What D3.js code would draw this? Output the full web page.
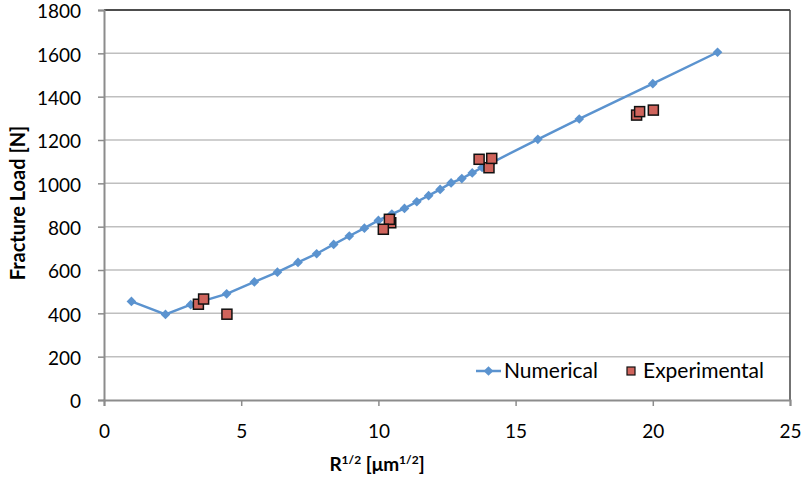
<!DOCTYPE html>
<html><head><meta charset="utf-8">
<script src="https://cdn.jsdelivr.net/npm/d3@7/dist/d3.min.js"></script>
<style>body{margin:0;background:#fff}svg{display:block;font-family:Lato,"Open Sans",sans-serif}</style>
</head><body><svg id="c" width="804" height="479"></svg>
<script>
const numX = [1.0, 2.24, 3.16, 4.47, 5.48, 6.32, 7.07, 7.75, 8.37, 8.94, 9.49, 10.0, 10.49, 10.95, 11.40, 11.83, 12.25, 12.65, 13.04, 13.42, 13.78, 14.14, 15.81, 17.32, 20.0, 22.36];
const numY = [455, 395, 440, 490, 545, 590, 635, 675, 718, 757, 793, 829, 858, 884, 915, 943, 972, 1002, 1022, 1048, 1073, 1096, 1203, 1297, 1460, 1605];
const expX = [3.44, 3.63, 4.48, 10.45, 10.40, 10.18, 14.03, 13.67, 14.13, 19.41, 19.52, 20.02];
const expY = [442, 466, 396, 818, 834, 788, 1072, 1111, 1115, 1315, 1331, 1338];
const xTicks = [0, 5, 10, 15, 20, 25];
const yTicks = [0, 200, 400, 600, 800, 1000, 1200, 1400, 1600, 1800];
const seriesNames = ["Numerical", "Experimental"];

const svg = d3.select("#c");
const L = 104, R = 790, T = 10, B = 400;
const x = d3.scaleLinear().domain([0, 25]).range([L, R]);
const y = d3.scaleLinear().domain([0, 1800]).range([B, T]);
const blue = "#5B93CF", red = "#CF645C";

// gridlines
svg.append("g").selectAll("line").data(yTicks.filter(d => d > 0)).join("line")
  .attr("x1", L).attr("x2", R).attr("y1", d => y(d)).attr("y2", d => y(d))
  .attr("stroke", "#BFBFBF").attr("stroke-width", 1.5);

// plot border top/right
svg.append("line").attr("x1", L).attr("x2", R).attr("y1", T).attr("y2", T).attr("stroke", "#222").attr("stroke-width", 1.5);
svg.append("line").attr("x1", R).attr("x2", R).attr("y1", T).attr("y2", B).attr("stroke", "#444").attr("stroke-width", 1.5);

// axes
const yAxis = svg.append("g").attr("transform", `translate(${L},0)`)
  .call(d3.axisLeft(y).tickValues(yTicks).tickSize(6).tickPadding(17).tickFormat(d3.format("d")));
const xAxis = svg.append("g").attr("transform", `translate(0,${B})`)
  .call(d3.axisBottom(x).tickValues(xTicks).tickSize(6).tickPadding(19).tickFormat(d3.format("d")));
[yAxis, xAxis].forEach(g => {
  g.select(".domain").attr("stroke", "#8C8C8C").attr("stroke-width", 2);
  g.selectAll(".tick line").attr("stroke", "#8C8C8C").attr("stroke-width", 1.5);
  g.selectAll("text").attr("font-size", 19).attr("fill", "#000").attr("font-family", "Lato");
});
yAxis.selectAll("text").attr("dy", "0.42em");

// numerical line
const pts = numX.map((v, i) => [v, numY[i]]);
svg.append("path").datum(pts)
  .attr("d", d3.line().x(d => x(d[0])).y(d => y(d[1])))
  .attr("fill", "none").attr("stroke", blue).attr("stroke-width", 2.5);
const diamond = d3.symbol().type(d3.symbolDiamond2).size(60);
svg.append("g").selectAll("path").data(pts).join("path")
  .attr("transform", d => `translate(${x(d[0])},${y(d[1])})`)
  .attr("d", diamond).attr("fill", blue);

// experimental squares
const s = 10;
svg.append("g").selectAll("rect").data(expX.map((v, i) => [v, expY[i]])).join("rect")
  .attr("x", d => x(d[0]) - s / 2).attr("y", d => y(d[1]) - s / 2)
  .attr("width", s).attr("height", s)
  .attr("fill", red).attr("stroke", "#111").attr("stroke-width", 1.5);

// axis titles
svg.append("text").attr("transform", "translate(25,203) rotate(-90)")
  .attr("text-anchor", "middle").attr("font-weight", "bold").attr("font-size", 20)
  .text("Fracture Load [N]");
const xt = svg.append("text").attr("x", 377).attr("y", 471)
  .attr("text-anchor", "middle").attr("font-weight", "bold").attr("font-size", 19);
xt.append("tspan").text("R");
xt.append("tspan").attr("font-size", 12).attr("dy", -7).text("1/2");
xt.append("tspan").attr("dy", 7).text(" [μm");
xt.append("tspan").attr("font-size", 12).attr("dy", -7).text("1/2");
xt.append("tspan").attr("dy", 7).text("]");

// legend
const lg = svg.append("g");
lg.append("line").attr("x1", 476).attr("x2", 501).attr("y1", 371).attr("y2", 371).attr("stroke", blue).attr("stroke-width", 2.5);
lg.append("path").attr("transform", "translate(488.5,371)").attr("d", diamond).attr("fill", blue);
lg.append("text").attr("x", 504).attr("y", 378).attr("font-size", 21).text(seriesNames[0]);
lg.append("rect").attr("x", 627).attr("y", 367).attr("width", 8).attr("height", 8)
  .attr("fill", red).attr("stroke", "#111").attr("stroke-width", 1.2);
lg.append("text").attr("x", 643).attr("y", 378).attr("font-size", 21).text(seriesNames[1]);
</script></body></html>
